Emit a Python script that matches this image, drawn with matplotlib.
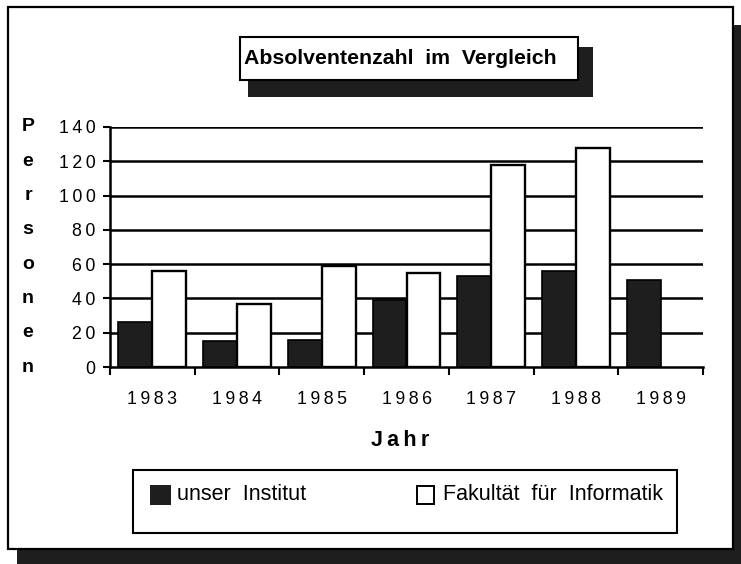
import matplotlib
matplotlib.use("Agg")
import matplotlib.pyplot as plt
from matplotlib.patches import Rectangle
import matplotlib.transforms as mtrans
import numpy as np

years = ["1983", "1984", "1985", "1986", "1987", "1988", "1989"]
institut = [26, 15, 16, 39, 53, 56, 51]
fakultaet = [56, 37, 59, 55, 118, 128, np.nan]
series_names = ["unser Institut", "Fakultät für Informatik"]
yticks = [0, 20, 40, 60, 80, 100, 120, 140]
title = "Absolventenzahl  im  Vergleich"
xlabel = "Jahr"
ylabel = "Personen"

W, H = 741, 564
plt.rcParams['font.family'] = ['Liberation Sans', 'DejaVu Sans']
DARK = '#1e1e1e'

def sp(s):
    return "\u2009".join(s)

def fx(x):
    return x / W

def fy(y):
    return 1 - y / H

fig = plt.figure(figsize=(W / 100, H / 100), dpi=100)
fig.patch.set_facecolor('white')

# outer frame with shadow
fig.add_artist(Rectangle((fx(17), fy(564)), fx(741) - fx(17), fy(549) - fy(564),
                         transform=fig.transFigure, facecolor=DARK, edgecolor='none', zorder=-3))
fig.add_artist(Rectangle((fx(733), fy(564)), fx(741) - fx(733), fy(25) - fy(564),
                         transform=fig.transFigure, facecolor=DARK, edgecolor='none', zorder=-3))
fig.add_artist(Rectangle((fx(8), fy(549)), fx(733) - fx(8), fy(7) - fy(549),
                         transform=fig.transFigure, facecolor='white', edgecolor='black',
                         linewidth=1.6, zorder=-2))

ax = fig.add_axes([fx(110), fy(367), (703 - 110) / W, 240 / H])
ax.set_zorder(1)
ax.set_facecolor('none')
x = np.arange(len(years))
bw = 0.40
ax.bar(x - bw / 2, institut, bw, color=DARK, edgecolor='black', linewidth=1.2, zorder=3)
ax.bar(x + bw / 2, fakultaet, bw, color='white', edgecolor='black', linewidth=1.7, zorder=3)

ax.set_xlim(-0.5, len(years) - 0.5)
ax.set_ylim(0, 140)
for yv in yticks[1:]:
    ax.axhline(yv, color='black', linewidth=1.8, zorder=1)

ax.set_yticks(yticks)
ax.set_yticklabels([sp(str(v)) for v in yticks], fontsize=12.8)
ax.tick_params(axis='y', direction='out', length=5, width=1.5, pad=5.5)

ax.set_xticks(np.arange(len(years) + 1) - 0.5)
ax.set_xticklabels([])
ax.tick_params(axis='x', which='major', direction='out', length=6, width=1.5)
ax.set_xticks(x, minor=True)
ax.set_xticklabels([sp(y) for y in years], minor=True, fontsize=12.8)
ax.tick_params(axis='x', which='minor', length=0, pad=17)

for s in ['top', 'right']:
    ax.spines[s].set_visible(False)
for s in ['left', 'bottom']:
    ax.spines[s].set_linewidth(1.8)

# stacked y label
tr = mtrans.blended_transform_factory(fig.transFigure, ax.transData)
for ch, yv in zip(ylabel, yticks[::-1]):
    ax.text(fx(28), yv, ch, transform=tr, ha='center', va='center',
            fontsize=14, fontweight='bold', clip_on=False)

fig.text(fx(400), fy(440), sp(xlabel), ha='center', va='center', fontsize=15.5, fontweight='bold')

# title box with shadow
fig.add_artist(Rectangle((fx(248), fy(97)), fx(593) - fx(248), fy(47) - fy(97),
                         transform=fig.transFigure, facecolor=DARK, edgecolor='none', zorder=4))
fig.add_artist(Rectangle((fx(240), fy(80)), fx(578) - fx(240), fy(37) - fy(80),
                         transform=fig.transFigure, facecolor='white', edgecolor='black',
                         linewidth=1.5, zorder=5))
fig.text(fx(244), fy(59), title, ha='left', va='center', fontsize=15.3, fontweight='bold', zorder=6)

# legend box
fig.add_artist(Rectangle((fx(133), fy(533)), fx(677) - fx(133), fy(470) - fy(533),
                         transform=fig.transFigure, facecolor='white', edgecolor='black',
                         linewidth=1.5, zorder=5))
fig.add_artist(Rectangle((fx(150), fy(505)), fx(171) - fx(150), fy(485) - fy(505),
                         transform=fig.transFigure, facecolor=DARK, edgecolor='none', zorder=6))
fig.text(fx(177), fy(495), series_names[0].replace(" ", "  "), ha='left', va='center', fontsize=15.5, zorder=6)
fig.add_artist(Rectangle((fx(417), fy(504)), fx(434) - fx(417), fy(486) - fy(504),
                         transform=fig.transFigure, facecolor='white', edgecolor='black',
                         linewidth=1.4, zorder=6))
fig.text(fx(443), fy(495), series_names[1].replace(" ", "  "), ha='left', va='center', fontsize=15.5, zorder=6)

fig.savefig("out.png", dpi=100)
